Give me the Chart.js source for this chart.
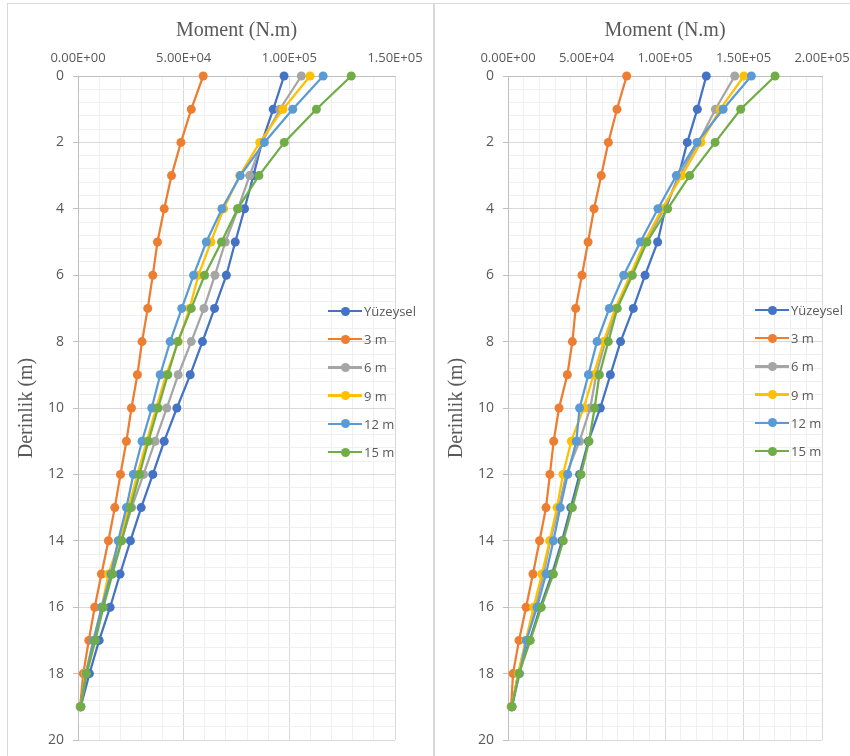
<!DOCTYPE html>
<html>
<head>
<meta charset="utf-8">
<script src="https://cdn.jsdelivr.net/npm/chart.js@4.4.1/dist/chart.umd.min.js"></script>
<style>
  body { margin:0; background:#fff; width:850px; height:756px; overflow:hidden; position:relative; }
  .kutu { position:absolute; top:3px; height:770px; border:1px solid #d9d9d9; }
  #kutuSol { left:7px; width:425px; }
  #kutuSag { left:434px; width:430px; }
  .grafik { position:absolute; top:4px; height:752px; }
  #grafikSol { left:8px; width:425px; }
  #grafikSag { left:434px; width:416px; }
  .legend { position:absolute; width:100px; height:10px; }
  .satir { position:absolute; left:0; height:16px; display:flex; align-items:center; white-space:nowrap; }
  .cizgi { position:relative; width:34px; height:2.5px; display:inline-block; }
  .nokta { position:absolute; left:12.5px; top:-3.25px; width:9px; height:9px; border-radius:50%; }
  .etiket { margin-left:2px; font-family:'Open Sans', sans-serif; font-size:13px; color:#595959; }
</style>
</head>
<body>
<div class="kutu" id="kutuSol"></div>
<div class="kutu" id="kutuSag"></div>
<div class="grafik" id="grafikSol"><canvas id="chartSol"></canvas></div>
<div class="grafik" id="grafikSag"><canvas id="chartSag"></canvas></div>
<div class="legend" id="legendSol" style="left:328px; top:311px;"></div>
<div class="legend" id="legendSag" style="left:755px; top:310px;"></div>
<script>
// Derinlik (m)
const derinlik = [0,1,2,3,4,5,6,7,8,9,10,11,12,13,14,15,16,17,18,19];
const seriAdlari = ['Yüzeysel', '3 m', '6 m', '9 m', '12 m', '15 m'];
const renkler = ['#4472C4', '#ED7D31', '#A5A5A5', '#FFC000', '#5B9BD5', '#70AD47'];

// Sol grafik - moment (N.m)
const solYuzeysel = [97500, 92400, 87000, 83000, 78800, 74400, 70200, 64600, 58900, 53100, 46800, 40800, 35400, 29900, 24800, 19900, 15200, 10000, 5400, 1300];
const sol3m = [59250, 53600, 48700, 44250, 40800, 37600, 35400, 33000, 30300, 28100, 25300, 22900, 20100, 17400, 14400, 11100, 7900, 5100, 2500, 1000];
const sol6m = [105700, 95500, 87000, 81200, 75700, 69700, 64800, 59600, 53600, 47400, 42000, 36500, 31000, 25400, 20500, 15900, 11500, 7800, 3800, 1300];
const sol9m = [109800, 97000, 86000, 76500, 68900, 62900, 57000, 52800, 47500, 41700, 37000, 32500, 28100, 23900, 19600, 14400, 11200, 7300, 3500, 1300];
const sol12m = [116000, 101600, 88200, 76800, 68100, 60700, 54700, 49100, 43600, 38900, 34900, 30300, 26200, 22900, 19000, 15600, 11200, 7300, 3800, 1300];
const sol15m = [129300, 112800, 97600, 85600, 75500, 67900, 59900, 53600, 47200, 42500, 37900, 33300, 29100, 24800, 20700, 16300, 12000, 8200, 4100, 1300];

// Sag grafik - moment (N.m)
const sagYuzeysel = [126300, 120600, 114200, 108700, 100200, 95300, 87300, 79800, 71700, 65200, 58800, 51200, 45600, 40000, 34400, 28000, 20600, 13800, 6500, 2500];
const sag3m = [75600, 69400, 63900, 59400, 54800, 51000, 47100, 43100, 41000, 37800, 32500, 29100, 26700, 24200, 20100, 15900, 11500, 7000, 3200, 2000];
const sag6m = [144400, 132100, 121300, 109300, 99400, 87500, 78600, 69000, 61900, 56200, 52400, 45600, 37100, 32300, 26900, 22700, 17400, 11500, 6500, 2500];
const sag9m = [150300, 135200, 122900, 110800, 98100, 87000, 77900, 68300, 60900, 54500, 48200, 40300, 35000, 31200, 26500, 21600, 16300, 11300, 6500, 2500];
const sag12m = [155000, 137000, 120400, 107200, 95500, 84300, 73700, 64500, 56700, 51200, 45600, 43500, 38000, 33300, 28900, 24200, 18500, 11700, 7400, 2500];
const sag15m = [170100, 148200, 131900, 115700, 101700, 88500, 79200, 69600, 63900, 58200, 55200, 51600, 46500, 41000, 35200, 28900, 21200, 14200, 7000, 2500];

// Eksen ayarlari
const xAdim = 10000, xAnaAdim = 50000;
const yAdim = 0.4, yAnaAdim = 2;

function anaMi(v, ana) {
  const r = v / ana;
  return Math.abs(r - Math.round(r)) < 1e-6;
}

// 5.00E+04 bicimi
function ustel(v) {
  if (v === 0) return '0.00E+00';
  const us = Math.floor(Math.log10(v));
  const m = v / Math.pow(10, us);
  return m.toFixed(2) + 'E+' + String(us).padStart(2, '0');
}

function veriSetleri(seriler) {
  return seriler.map((s, i) => ({
    label: seriAdlari[i],
    data: s.map((v, k) => ({x: v, y: derinlik[k]})),
    borderColor: renkler[i],
    backgroundColor: renkler[i],
    borderWidth: 2.25,
    pointRadius: 4.5,
    pointHoverRadius: 4.5,
    pointBorderWidth: 0,
    tension: 0,
    clip: false,
    order: 5 - i
  }));
}

function grafikCiz(canvasId, legendId, seriler, xMax, yGenislik, sagBosluk, yBaslikPad) {
  const datasets = veriSetleri(seriler);
  new Chart(document.getElementById(canvasId), {
    type: 'line',
    data: { datasets: datasets },
    options: {
      responsive: true,
      maintainAspectRatio: false,
      animation: false,
      events: [],
      layout: { padding: { top: 0, left: 0, right: sagBosluk, bottom: 16 } },
      plugins: { legend: { display: false }, tooltip: { enabled: false } },
      scales: {
        x: {
          type: 'linear', position: 'top', min: 0, max: xMax,
          ticks: {
            stepSize: xAdim, autoSkip: false, maxRotation: 0, padding: 10,
            color: '#595959', font: { family: 'Open Sans', size: 13 },
            callback: v => anaMi(v, xAnaAdim) ? ustel(v) : ''
          },
          grid: {
            color: c => anaMi(c.tick.value, xAnaAdim) ? '#d9d9d9' : '#f0f0f0',
            drawTicks: false
          },
          border: { color: '#bfbfbf' },
          title: {
            display: true, text: 'Moment (N.m)', color: '#595959',
            font: { family: 'Liberation Serif', size: 20 }, padding: { top: 15, bottom: 0 }
          },
          afterFit: s => { s.height = 72; s.paddingLeft = 0; s.paddingRight = 0; }
        },
        y: {
          type: 'linear', reverse: true, min: 0, max: 20,
          ticks: {
            stepSize: yAdim, autoSkip: false, padding: 9,
            color: '#595959', font: { family: 'Open Sans', size: 14 },
            callback: v => anaMi(v, yAnaAdim) ? Math.round(v) : ''
          },
          grid: {
            color: c => anaMi(c.tick.value, yAnaAdim) ? '#d9d9d9' : '#f0f0f0',
            tickColor: c => anaMi(c.tick.value, yAnaAdim) ? '#bfbfbf' : 'rgba(0,0,0,0)',
            tickLength: 5
          },
          border: { color: '#bfbfbf' },
          title: {
            display: true, text: 'Derinlik (m)', color: '#595959',
            font: { family: 'Liberation Serif', size: 20 }, padding: { top: yBaslikPad, bottom: 0 }
          },
          afterFit: s => { s.width = yGenislik; s.paddingTop = 0; s.paddingBottom = 0; }
        }
      }
    }
  });

  // Lejant (grafik alaninin ustunde)
  const el = document.getElementById(legendId);
  datasets.forEach((ds, i) => {
    const satir = document.createElement('div');
    satir.className = 'satir';
    satir.style.top = (i * 28.2 - 8) + 'px';
    satir.innerHTML = '<span class="cizgi" style="background:' + ds.borderColor + '">' +
      '<span class="nokta" style="background:' + ds.borderColor + '"></span></span>' +
      '<span class="etiket">' + ds.label + '</span>';
    el.appendChild(satir);
  });
}

grafikCiz('chartSol', 'legendSol', [solYuzeysel, sol3m, sol6m, sol9m, sol12m, sol15m], 150000, 70, 38, 7);
grafikCiz('chartSag', 'legendSag', [sagYuzeysel, sag3m, sag6m, sag9m, sag12m, sag15m], 200000, 74, 28, 11);
</script>
</body>
</html>
